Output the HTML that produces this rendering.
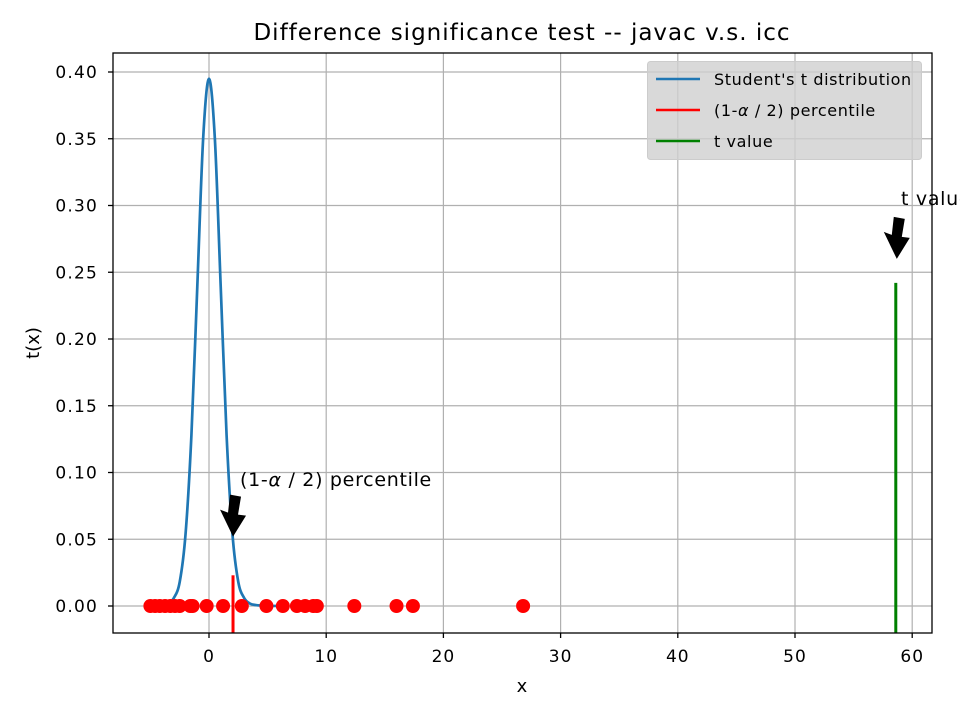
<!DOCTYPE html>
<html><head><meta charset="utf-8"><style>
body{margin:0;background:#fff}
svg{display:block;font-family:"DejaVu Sans","Liberation Sans",sans-serif}
</style></head><body>
<svg id="chart" width="960" height="720" viewBox="0 0 960 720">
<rect x="0" y="0" width="960" height="720" fill="#fff"/>
<g id="grid"></g>
<g id="plot"></g>
<rect x="113" y="53" width="819" height="580" fill="none" stroke="#000" stroke-width="1.3"/>
<g id="ticks"></g>
<text x="522" y="40" font-size="23" letter-spacing="1" text-anchor="middle">Difference significance test -- javac v.s. icc</text>
<text x="522" y="692" font-size="18" text-anchor="middle">x</text>
<text transform="translate(39,343) rotate(-90)" font-size="18" text-anchor="middle">t(x)</text>
<g>
<rect x="647.5" y="61.5" width="274" height="98" rx="3" fill="#cfcfcf" fill-opacity="0.8" stroke="#ccc"/>
<line x1="656" y1="79" x2="700" y2="79" stroke="#1f77b4" stroke-width="2.5"/>
<text x="714" y="85" font-size="16" letter-spacing="0.6">Student's t distribution</text>
<line x1="656" y1="110" x2="700" y2="110" stroke="#f00" stroke-width="2.5"/>
<text x="714" y="116" font-size="16" letter-spacing="0.6">(1-<tspan font-style="italic">α</tspan> / 2) percentile</text>
<line x1="656" y1="141" x2="700" y2="141" stroke="#008000" stroke-width="2.5"/>
<text x="714" y="147" font-size="16" letter-spacing="0.6">t value</text>
</g>
<g id="annot"></g>
</svg>
<script>
const xTicks=[0,10,20,30,40,50,60];
const yTicks=[0,0.05,0.10,0.15,0.20,0.25,0.30,0.35,0.40];
const yTickLabels=["0.00","0.05","0.10","0.15","0.20","0.25","0.30","0.35","0.40"];
const curveX=[-5,-4.5,-4,-3.5,-3,-2.5,-2,-1.5,-1,-0.5,0,0.5,1,1.5,2,2.5,3,3.5,4,4.5,5,5.5,6];
const curveY=[0.0001,0.0003,0.0007,0.0018,0.006,0.018,0.054,0.128,0.239,0.35,0.395,0.35,0.239,0.128,0.054,0.018,0.006,0.0018,0.0007,0.0003,0.0001,0.00005,0.00002];
const samples=[-5.0,-4.6,-4.2,-3.75,-3.3,-2.9,-2.5,-1.6,-1.4,-0.2,1.2,2.8,4.9,6.3,7.5,8.2,8.9,9.2,12.4,16.0,17.4,26.8];
const percentile=2.05, percentileHeight=0.023;
const tValue=58.6, tValueHeight=0.242;
const NS='http://www.w3.org/2000/svg';
const X=v=>209+v*11.72, Y=v=>606-v*1335;
function mk(t,a,p){const e=document.createElementNS(NS,t);for(const k in a)e.setAttribute(k,a[k]);(p||document.getElementById('plot')).appendChild(e);return e;}
const grid=document.getElementById('grid'),ticks=document.getElementById('ticks'),annot=document.getElementById('annot');
xTicks.forEach(v=>{const px=X(v);
 let g=mk('line',{x1:px,x2:px,y1:53,y2:633,stroke:'#b0b0b0','stroke-width':1.2},grid);
 
 
 let t=mk('line',{x1:px,x2:px,y1:633,y2:638,stroke:'#000','stroke-width':1.3},ticks);
 
 
 let l=mk('text',{x:px,y:662,'font-size':17,'letter-spacing':1,'text-anchor':'middle'},ticks);l.textContent=v;
 
 
});
yTicks.forEach((v,i)=>{const py=Y(v);
 let g=mk('line',{x1:113,x2:932,y1:py,y2:py,stroke:'#b0b0b0','stroke-width':1.2},grid);
 
 
 let t=mk('line',{x1:108,x2:113,y1:py,y2:py,stroke:'#000','stroke-width':1.3},ticks);
 
 
 let l=mk('text',{x:98,y:py+6,'font-size':17,'letter-spacing':1.2,'text-anchor':'end'},ticks);l.textContent=yTickLabels[i];
 
 
});
const P=curveX.map((x,i)=>[X(x),Y(curveY[i])]);
let d='M'+P[0][0]+','+P[0][1];
for(let i=0;i<P.length-1;i++){const p0=P[Math.max(0,i-1)],p1=P[i],p2=P[i+1],p3=P[Math.min(P.length-1,i+2)];
 d+=` C${p1[0]+(p2[0]-p0[0])/6},${p1[1]+(p2[1]-p0[1])/6} ${p2[0]-(p3[0]-p1[0])/6},${p2[1]-(p3[1]-p1[1])/6} ${p2[0]},${p2[1]}`;}
let c=mk('path',{d:d,fill:'none',stroke:'#1f77b4','stroke-width':2.7});


samples.forEach(s=>{let e=mk('circle',{cx:X(s),cy:Y(0),r:7,fill:'#f00'});
 
 });
let pl=mk('line',{x1:X(percentile),x2:X(percentile),y1:633,y2:Y(percentileHeight),stroke:'#f00','stroke-width':3});


let tl=mk('line',{x1:X(tValue),x2:X(tValue),y1:633,y2:Y(tValueHeight),stroke:'#008000','stroke-width':3});


function arrow(tx,ty,name){
 const s=`M${tx},${ty} L${tx-13},${ty-27} L${tx-5},${ty-24} L${tx-3},${ty-42} L${tx+8},${ty-40} L${tx+5},${ty-22} L${tx+13},${ty-21} Z`;
 let a=mk('path',{d:s,fill:'#000'},annot);
 
 }
arrow(X(percentile),Y(0.052),'percentile-arrow');
arrow(X(tValue)+1,Y(0.26),'t-value-arrow');
let at=mk('text',{x:240,y:486,'font-size':19,'letter-spacing':0.7},annot);
at.innerHTML='(1-<tspan font-style="italic">α</tspan> / 2) percentile';


let bt=mk('text',{x:901,y:205,'font-size':19,'letter-spacing':0.7},annot);bt.textContent='t value';


</script>
</body></html>
